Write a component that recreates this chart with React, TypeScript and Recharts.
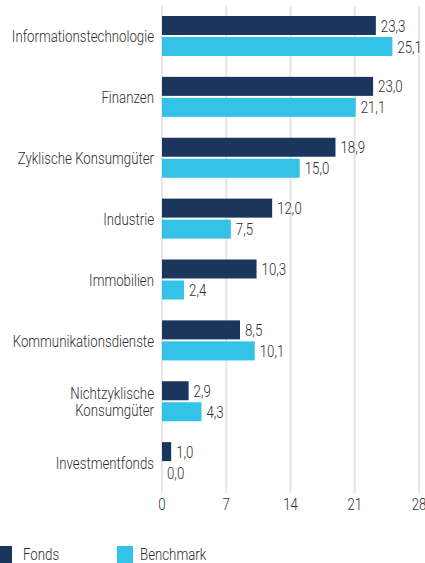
import React from 'react';
import { BarChart, Bar, XAxis, YAxis, CartesianGrid } from 'recharts';

const categories = [
  'Informationstechnologie',
  'Finanzen',
  'Zyklische Konsumgüter',
  'Industrie',
  'Immobilien',
  'Kommunikationsdienste',
  'Nichtzyklische Konsumgüter',
  'Investmentfonds',
];
const fondsValues = [23.3, 23.0, 18.9, 12.0, 10.3, 8.5, 2.9, 1.0];
const benchmarkValues = [25.1, 21.1, 15.0, 7.5, 2.4, 10.1, 4.3, 0.0];
const xTicks = [0, 7, 14, 21, 28];

const FONDS_COLOR = '#1b365d';
const BENCH_COLOR = '#33c3e8';
const TEXT_COLOR = '#2e2e2e';
const FONT = 'Roboto, "Liberation Sans", sans-serif';
const FONT_SIZE = 17;
const SX = 0.78; // horizontal squeeze to mimic the condensed face

const chartData = categories.map((name, i) => ({
  name,
  fonds: fondsValues[i],
  benchmark: benchmarkValues[i],
}));

const fmt = (v: number) => v.toFixed(1).replace('.', ',');

const CondText = ({ x, y, anchor, children }: any) => (
  <text
    transform={`translate(${x},${y}) scale(${SX},1)`}
    textAnchor={anchor}
    fill={TEXT_COLOR}
    fontSize={FONT_SIZE}
    fontFamily={FONT}
    fontWeight={300}
  >
    {children}
  </text>
);

// long category names go on two lines
const CategoryTick = (props: any) => {
  const { x, y, payload } = props;
  const label: string = payload.value;
  const lines = label.length > 23 ? label.split(' ') : [label];
  const lineHeight = 17;
  const startY = y - ((lines.length - 1) * lineHeight) / 2;
  return (
    <CondText x={x - 6} y={startY + 6} anchor="end">
      {lines.map((l, i) => (
        <tspan key={i} x={0} dy={i === 0 ? 0 : lineHeight}>
          {l}
        </tspan>
      ))}
    </CondText>
  );
};

const ValueTick = (props: any) => {
  const { x, y, payload } = props;
  return (
    <CondText x={x} y={y + 13} anchor="middle">
      {payload.value}
    </CondText>
  );
};

const makeShape = (key: 'fonds' | 'benchmark') => (props: any) => {
  const { x, y, width, height, fill, payload } = props;
  const w = Math.max(0, width || 0);
  return (
    <g>
      {w > 0 && <rect x={x} y={y} width={w} height={height} fill={fill} />}
      <CondText x={x + w + 5} y={y + height / 2 + 6} anchor="start">
        {fmt(payload[key])}
      </CondText>
    </g>
  );
};

const App: React.FC = () => {
  return (
    <div style={{ position: 'absolute', left: 0, top: 0, width: 425, height: 563, background: '#fff', overflow: 'hidden', fontFamily: FONT }}>
      <BarChart
        width={425}
        height={525}
        data={chartData}
        layout="vertical"
        margin={{ top: 6, right: 6, left: 0, bottom: 2 }}
        barSize={19}
        barGap={2}
        style={{ overflow: 'visible' }}
      >
        <CartesianGrid horizontal={false} stroke="#e6e6e6" strokeWidth={2} />
        <XAxis
          type="number"
          domain={[0, 28]}
          ticks={xTicks}
          axisLine={false}
          tickLine={false}
          tickSize={0}
          tickMargin={4}
          height={30}
          tick={<ValueTick />}
          interval={0}
        />
        <YAxis
          type="category"
          dataKey="name"
          width={162}
          axisLine={false}
          tickLine={false}
          tickSize={0}
          tick={<CategoryTick />}
          interval={0}
        />
        <Bar dataKey="fonds" fill={FONDS_COLOR} isAnimationActive={false} shape={makeShape('fonds')} />
        <Bar dataKey="benchmark" fill={BENCH_COLOR} isAnimationActive={false} shape={makeShape('benchmark')} />
      </BarChart>
      <div style={{ position: 'absolute', left: 0, top: 546, width: 425, height: 17, fontSize: FONT_SIZE, fontWeight: 300, color: TEXT_COLOR }}>
        <span style={{ position: 'absolute', left: 0, top: 0, width: 12, height: 17, background: FONDS_COLOR }} />
        <span style={{ position: 'absolute', left: 23, top: -2, transform: `scaleX(${SX})`, transformOrigin: 'left', whiteSpace: 'nowrap' }}>Fonds</span>
        <span style={{ position: 'absolute', left: 117, top: 0, width: 16, height: 17, background: BENCH_COLOR }} />
        <span style={{ position: 'absolute', left: 140, top: -2, transform: `scaleX(${SX})`, transformOrigin: 'left', whiteSpace: 'nowrap' }}>Benchmark</span>
      </div>
    </div>
  );
};

export default App;
